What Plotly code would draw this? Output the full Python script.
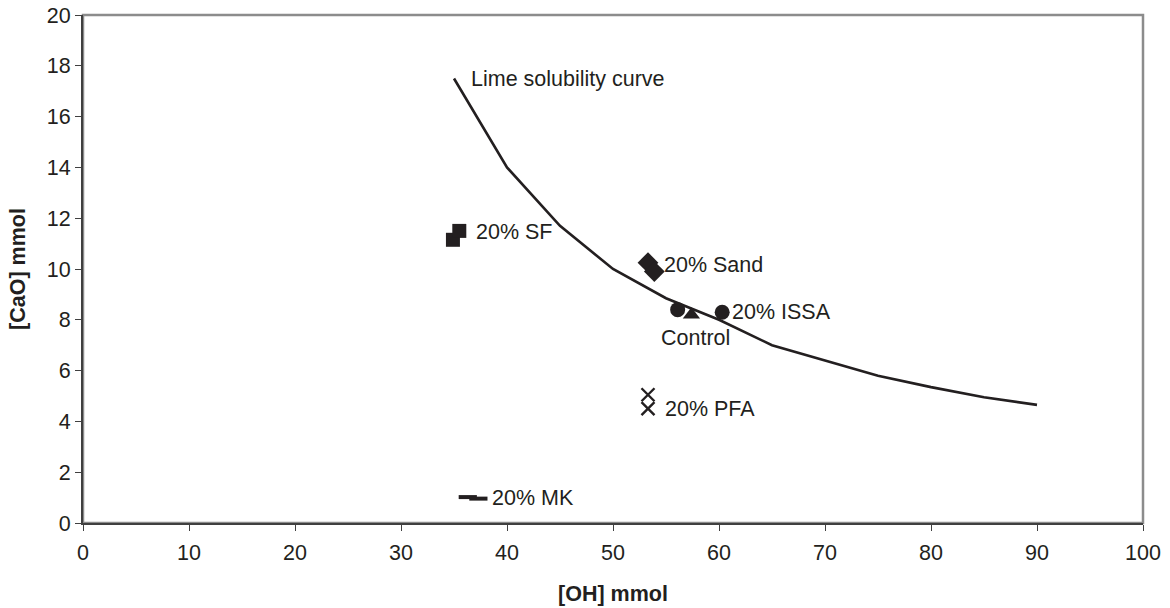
import plotly.graph_objects as go

# Lime solubility curve
curve_oh = [35, 40, 45, 50, 55, 60, 65, 70, 75, 80, 85, 90]
curve_cao = [17.5, 14.0, 11.7, 10.0, 8.85, 8.0, 7.0, 6.4, 5.8, 5.35, 4.95, 4.65]

# Mixes
sf_oh = [34.9, 35.5]
sf_cao = [11.15, 11.5]
sand_oh = [53.3, 53.9]
sand_cao = [10.25, 9.9]
issa_oh = [56.1, 60.3]
issa_cao = [8.4, 8.3]
control_oh = [57.4]
control_cao = [8.2]
pfa_oh = [53.3, 53.3]
pfa_cao = [5.05, 4.5]
mk_oh = [36.3, 37.3]
mk_cao = [1.02, 0.96]

x_ticks = [0, 10, 20, 30, 40, 50, 60, 70, 80, 90, 100]
y_ticks = [0, 2, 4, 6, 8, 10, 12, 14, 16, 18, 20]

FONT = "Liberation Sans, Arial, sans-serif"
INK = "#231f20"
FS = 21.5

fig = go.Figure()
fig.add_trace(go.Scatter(x=curve_oh, y=curve_cao, mode="lines",
                         line=dict(color=INK, width=2.6), showlegend=False))
fig.add_trace(go.Scatter(x=sf_oh, y=sf_cao, mode="markers",
                         marker=dict(symbol="square", size=14, color=INK), showlegend=False))
fig.add_trace(go.Scatter(x=sand_oh, y=sand_cao, mode="markers",
                         marker=dict(symbol="diamond", size=16, color=INK), showlegend=False))
fig.add_trace(go.Scatter(x=issa_oh, y=issa_cao, mode="markers",
                         marker=dict(symbol="circle", size=15, color=INK), showlegend=False))
fig.add_trace(go.Scatter(x=control_oh, y=control_cao, mode="markers",
                         marker=dict(symbol="triangle-up", size=15, color=INK), showlegend=False))
fig.add_trace(go.Scatter(x=pfa_oh, y=pfa_cao, mode="markers",
                         marker=dict(symbol="x-thin", size=13, line=dict(color=INK, width=2.4)),
                         showlegend=False))
fig.add_trace(go.Scatter(x=mk_oh, y=mk_cao, mode="markers",
                         marker=dict(symbol="line-ew", size=13, line=dict(color=INK, width=4)),
                         showlegend=False))

labels = [
    ("Lime solubility curve", 36.4, 17.5),
    ("20% SF", 36.9, 11.45),
    ("20% Sand", 54.6, 10.15),
    ("20% ISSA", 61.0, 8.3),
    ("Control", 54.3, 7.3),
    ("20% PFA", 54.7, 4.5),
    ("20% MK", 38.4, 1.0),
]
for text, x, y in labels:
    fig.add_annotation(x=x, y=y, text=text, showarrow=False, xanchor="left", yanchor="middle",
                       font=dict(family=FONT, size=FS, color=INK))

# Gray frame on top/right
fig.add_shape(type="rect", xref="paper", yref="paper", x0=0, y0=0, x1=1, y1=1,
              line=dict(color="#8c8c8c", width=2.5), layer="below")

axis_common = dict(showgrid=False, zeroline=False, showline=True, linecolor="#404040", linewidth=2,
                   ticks="outside", ticklen=6, tickwidth=1, tickcolor="#404040", automargin=False,
                   tickfont=dict(family=FONT, size=FS, color=INK))
fig.update_xaxes(range=[0, 100], tickvals=x_ticks, ticklabelstandoff=3,
                 title=dict(text="<b>[OH] mmol</b>", font=dict(family=FONT, size=FS, color=INK), standoff=22),
                 **axis_common)
fig.update_yaxes(range=[0, 20], tickvals=y_ticks,
                 title=dict(text="<b>[CaO] mmol</b>", font=dict(family=FONT, size=FS, color=INK), standoff=15),
                 **axis_common)

fig.update_layout(width=1170, height=608, margin=dict(l=83, r=27, t=15, b=85),
                  plot_bgcolor="white", paper_bgcolor="white", showlegend=False)

# remove the default 8px page margin so the figure sits at the window's corner
fig.write_html("out.html", config={"displayModeBar": False},
               post_script="document.body.style.margin='0';")
